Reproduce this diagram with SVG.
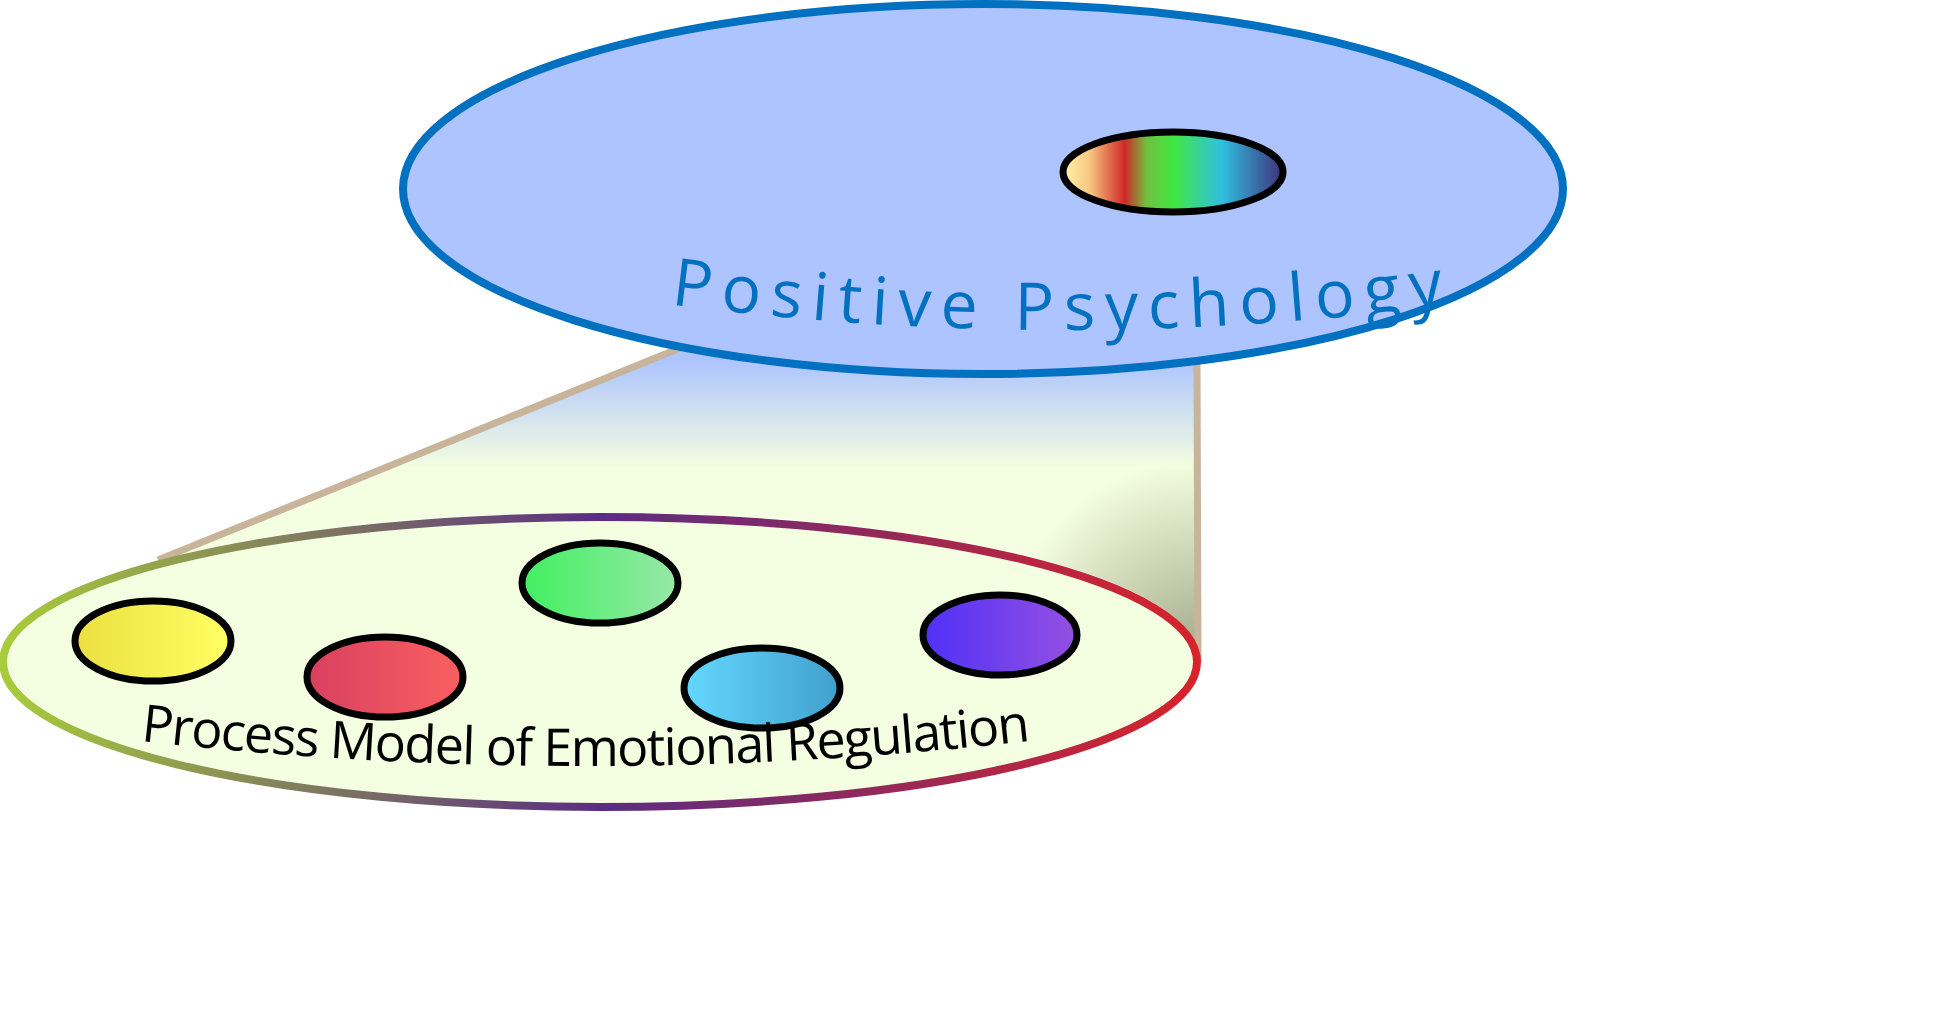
<svg xmlns="http://www.w3.org/2000/svg" width="1949" height="1009" viewBox="0 0 1949 1009">
<defs>
<linearGradient id="ring" x1="0" y1="0" x2="1" y2="0"><stop offset="0" stop-color="#a8cc3a"/><stop offset="0.5" stop-color="#5a2d82"/><stop offset="1" stop-color="#d8232a"/></linearGradient>
<linearGradient id="beam" gradientUnits="userSpaceOnUse" x1="0" y1="360" x2="0" y2="665"><stop offset="0" stop-color="#adc4fe"/><stop offset="0.35" stop-color="#f4fee0"/><stop offset="1" stop-color="#f4fee0"/></linearGradient>
<radialGradient id="shade" gradientUnits="userSpaceOnUse" cx="1198" cy="650" r="190"><stop offset="0" stop-color="#a0a888" stop-opacity="0.95"/><stop offset="1" stop-color="#a0a888" stop-opacity="0"/></radialGradient>
<linearGradient id="rainbow" x1="0" y1="0" x2="1" y2="0"><stop offset="0" stop-color="#fff4a8"/><stop offset="0.12" stop-color="#f8c880"/><stop offset="0.28" stop-color="#d02828"/><stop offset="0.38" stop-color="#70c040"/><stop offset="0.5" stop-color="#40e840"/><stop offset="0.72" stop-color="#30c0e0"/><stop offset="1" stop-color="#40307c"/></linearGradient>
<linearGradient id="gy" x1="0" x2="1"><stop offset="0" stop-color="#ece040"/><stop offset="1" stop-color="#ffff64"/></linearGradient>
<linearGradient id="gr" x1="0" x2="1"><stop offset="0" stop-color="#d84060"/><stop offset="1" stop-color="#fa6060"/></linearGradient>
<linearGradient id="gg" x1="0" x2="1"><stop offset="0" stop-color="#40f060"/><stop offset="1" stop-color="#98e8a8"/></linearGradient>
<linearGradient id="gb" x1="0" x2="1"><stop offset="0" stop-color="#64d8ff"/><stop offset="1" stop-color="#40a0cc"/></linearGradient>
<linearGradient id="gp" x1="0" x2="1"><stop offset="0" stop-color="#5030f8"/><stop offset="1" stop-color="#9450e0"/></linearGradient>
<path id="arcTop" d="M 605 295 Q 1060 365 1520 295"/>
<path id="arcBot" d="M 150 742 Q 585 790 1020 742"/>
<style>
.dot{stroke:#000;stroke-width:7}
.beamline{stroke:#c8b49a;stroke-width:7;fill:none}
</style>
</defs>
<rect width="1949" height="1009" fill="#fff"/>
<g id="bottom-plane">
<ellipse cx="600" cy="662" rx="597" ry="145" fill="#f4fee0"/>
</g>
<g id="connectors">
<path d="M680,348 L1197,362 L1197,662 A597 145 0 0 0 158 560 Z" fill="url(#beam)"/>
<path d="M680,348 L1197,362 L1197,662 A597 145 0 0 0 158 560 Z" fill="url(#shade)"/>
<line class="beamline" x1="680" y1="348" x2="158" y2="560"/>
<line class="beamline" x1="1197" y1="362" x2="1198" y2="662"/>
</g>
<g id="bottom-ring">
<ellipse cx="600" cy="662" rx="597" ry="145" fill="none" stroke="url(#ring)" stroke-width="8"/>
</g>
<g id="n-yellow"><ellipse class="dot" cx="153" cy="641" rx="78" ry="40" fill="url(#gy)"/></g>
<g id="n-red"><ellipse class="dot" cx="385" cy="677" rx="78" ry="40" fill="url(#gr)"/></g>
<g id="n-green"><ellipse class="dot" cx="600" cy="583" rx="78" ry="40" fill="url(#gg)"/></g>
<g id="n-blue"><ellipse class="dot" cx="762" cy="688" rx="78" ry="40" fill="url(#gb)"/></g>
<g id="n-purple"><ellipse class="dot" cx="1000" cy="635" rx="77" ry="40" fill="url(#gp)"/></g>
<g id="bottom-label">
<text font-family="Open Sans, Liberation Sans, sans-serif" font-size="52" fill="#000" text-anchor="middle" letter-spacing="-1.5"><textPath href="#arcBot" startOffset="50%">Process Model of Emotional Regulation</textPath></text>
</g>
<g id="top-plane">
<ellipse cx="983" cy="189" rx="580" ry="185" fill="#adc4fe" stroke="#0070c0" stroke-width="8"/>
<ellipse class="dot" cx="1173" cy="172" rx="110" ry="40" fill="url(#rainbow)"/>
<text font-family="Open Sans, Liberation Sans, sans-serif" font-size="66" fill="#0070c0" text-anchor="middle" letter-spacing="10"><textPath href="#arcTop" startOffset="50%">Positive Psychology</textPath></text>
</g>
</svg>
